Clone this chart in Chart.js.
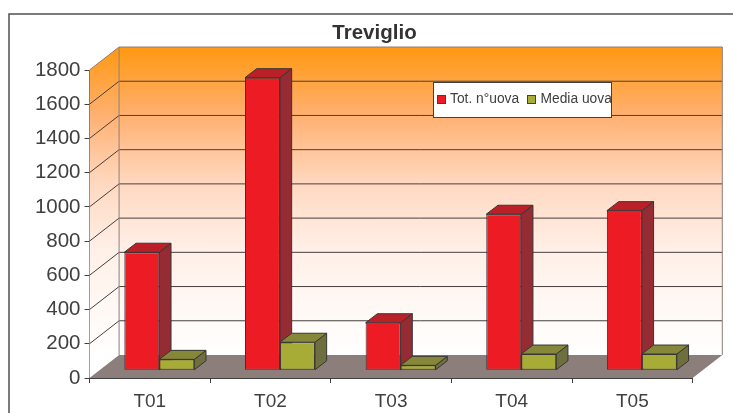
<!DOCTYPE html>
<html>
<head>
<meta charset="utf-8">
<script src="https://cdn.jsdelivr.net/npm/chart.js@4"></script>
<style>
  html, body { margin: 0; padding: 0; background: #fff; overflow: hidden; }
  canvas { display: block; }
</style>
</head>
<body>
<canvas id="chart" width="733" height="413"></canvas>
<script>
const categories = ['T01', 'T02', 'T03', 'T04', 'T05'];
const totUova = [690, 1710, 278, 912, 933];
const mediaUova = [64, 164, 29, 95, 95];
const seriesLabels = ['Tot. n°uova', 'Media uova'];

const FONT = '"Liberation Sans", Arial, sans-serif';
const TEXT = '#404040';
const EDGE = '#363636';

// fake 3D: how far the back wall and the bars are pushed from the axes
const wallDx = 29.6, wallDy = -23;
const barDx = 9.5, barDy = -7.7;
const barDepthX = 11.7, barDepthY = -9;

const faceColors = [
    { top: '#bb2029', side: '#952b33' },
    { top: '#87873a', side: '#6f6e3e' }
];

function polygon(ctx, pts, fill, stroke) {
    ctx.beginPath();
    pts.forEach((p, i) => i ? ctx.lineTo(p[0], p[1]) : ctx.moveTo(p[0], p[1]));
    ctx.closePath();
    if (fill) { ctx.fillStyle = fill; ctx.fill(); }
    if (stroke) { ctx.strokeStyle = stroke; ctx.lineWidth = 1; ctx.stroke(); }
}

const box3d = {
    id: 'box3d',
    afterLayout(chart) {
        // the title is centred over the plot walls, not the canvas
        chart.titleBlock.left = 332;
        chart.titleBlock.right = 417;
    },
    beforeDatasetsDraw(chart) {
        const { ctx, scales } = chart;
        const x0 = scales.x.left, x1 = scales.x.right;
        const yZero = scales.y.getPixelForValue(0);
        const yMax = scales.y.getPixelForValue(1800);

        ctx.save();
        // page frame, only its left and top edges are in the picture
        ctx.strokeStyle = '#505050';
        ctx.lineWidth = 1.5;
        ctx.strokeRect(9, 14, 900, 600);

        const grad = ctx.createLinearGradient(0, yMax + wallDy, 0, yZero + wallDy);
        grad.addColorStop(0, '#ff9810');
        grad.addColorStop(0.22, '#ffb070');
        grad.addColorStop(0.44, '#ffd8c0');
        grad.addColorStop(0.66, '#fff0e8');
        grad.addColorStop(0.9, '#fffbf8');
        grad.addColorStop(1, '#ffffff');

        // side wall and back wall
        polygon(ctx, [[x0, yMax], [x0 + wallDx, yMax + wallDy], [x0 + wallDx, yZero + wallDy], [x0, yZero]], grad);
        polygon(ctx, [[x0 + wallDx, yMax + wallDy], [x1 + wallDx, yMax + wallDy], [x1 + wallDx, yZero + wallDy], [x0 + wallDx, yZero + wallDy]], grad);

        // grid lines
        ctx.strokeStyle = '#45403e';
        ctx.lineWidth = 1;
        scales.y.ticks.forEach(t => {
            if (t.value === 0 || t.value === 1800) return;
            const y = scales.y.getPixelForValue(t.value);
            ctx.beginPath();
            ctx.moveTo(x0, y);
            ctx.lineTo(x0 + wallDx, y + wallDy);
            ctx.lineTo(x1 + wallDx, y + wallDy);
            ctx.stroke();
        });

        // wall edges
        ctx.strokeStyle = '#8c7f7b';
        ctx.lineWidth = 1;
        ctx.beginPath();
        ctx.moveTo(x0, yMax);
        ctx.lineTo(x0 + wallDx, yMax + wallDy);
        ctx.lineTo(x1 + wallDx, yMax + wallDy);
        ctx.lineTo(x1 + wallDx, yZero + wallDy);
        ctx.moveTo(x0 + wallDx, yMax + wallDy);
        ctx.lineTo(x0 + wallDx, yZero + wallDy);
        ctx.stroke();

        // floor
        polygon(ctx, [[x0, yZero], [x0 + wallDx, yZero + wallDy], [x1 + wallDx, yZero + wallDy], [x1, yZero]], '#8c7f7b');

        // bar depth faces, red first so the olive boxes sit in front of it
        ctx.translate(barDx, barDy);
        chart.data.datasets.forEach((ds, i) => {
            chart.getDatasetMeta(i).data.forEach(bar => {
                const l = bar.x - bar.width / 2, r = bar.x + bar.width / 2;
                const t = bar.y, b = bar.base;
                polygon(ctx, [[r, t], [r + barDepthX, t + barDepthY], [r + barDepthX, b + barDepthY], [r, b]], faceColors[i].side, EDGE);
                polygon(ctx, [[l, t], [l + barDepthX, t + barDepthY], [r + barDepthX, t + barDepthY], [r, t]], faceColors[i].top, EDGE);
            });
        });
        ctx.restore();
    },
    beforeDatasetDraw(chart) {
        chart.ctx.save();
        chart.ctx.translate(barDx, barDy);
    },
    afterDatasetDraw(chart) {
        chart.ctx.restore();
    },
    afterDraw(chart) {
        const { ctx } = chart;
        // legend box sits on top of the back wall
        ctx.save();
        ctx.fillStyle = '#fff';
        ctx.fillRect(433.5, 82.5, 178, 35);
        ctx.strokeStyle = '#404040';
        ctx.lineWidth = 1;
        ctx.strokeRect(433.5, 82.5, 178, 35);

        const swatchX = [437.5, 527.5], textX = [450, 540.5];
        ctx.font = '13.8px ' + FONT;
        ctx.textBaseline = 'middle';
        chart.data.datasets.forEach((ds, i) => {
            ctx.fillStyle = ds.backgroundColor;
            ctx.fillRect(swatchX[i], 95.5, 8, 8);
            ctx.strokeRect(swatchX[i], 95.5, 8, 8);
            ctx.fillStyle = TEXT;
            ctx.fillText(ds.label, textX[i], 99);
        });
        ctx.restore();
    }
};

new Chart(document.getElementById('chart').getContext('2d'), {
    type: 'bar',
    data: {
        labels: categories,
        datasets: [
            { label: seriesLabels[0], data: totUova, backgroundColor: '#ed1c24', borderColor: EDGE, borderWidth: 1, borderSkipped: false, clip: false },
            { label: seriesLabels[1], data: mediaUova, backgroundColor: '#a6ac36', borderColor: EDGE, borderWidth: 1, borderSkipped: false, clip: false }
        ]
    },
    options: {
        responsive: false,
        animation: false,
        categoryPercentage: 0.58,
        barPercentage: 1,
        layout: { autoPadding: false, padding: { left: 0, top: 0, right: 40.3, bottom: 0 } },
        plugins: {
            legend: { display: false },
            tooltip: { enabled: false },
            title: {
                display: true,
                text: 'Treviglio',
                color: '#333',
                font: { family: FONT, size: 20.5, weight: 'bold', lineHeight: 1.2 },
                padding: { top: 21, bottom: 24.4 }
            }
        },
        scales: {
            x: {
                afterFit(scale) { scale.height = 35; },
                border: { display: true, color: TEXT },
                grid: { drawOnChartArea: false, drawTicks: true, tickLength: 5, color: TEXT },
                ticks: { color: TEXT, font: { family: FONT, size: 19 }, padding: 7, maxRotation: 0 }
            },
            y: {
                min: 0,
                max: 1800,
                afterFit(scale) { scale.width = 89.5; },
                border: { display: true, color: TEXT },
                grid: { drawOnChartArea: false, drawTicks: true, tickLength: 5, color: TEXT },
                ticks: { stepSize: 200, color: TEXT, font: { family: FONT, size: 20.5 }, padding: 4, callback: v => String(v) }
            }
        }
    },
    plugins: [box3d]
});
</script>
</body>
</html>
